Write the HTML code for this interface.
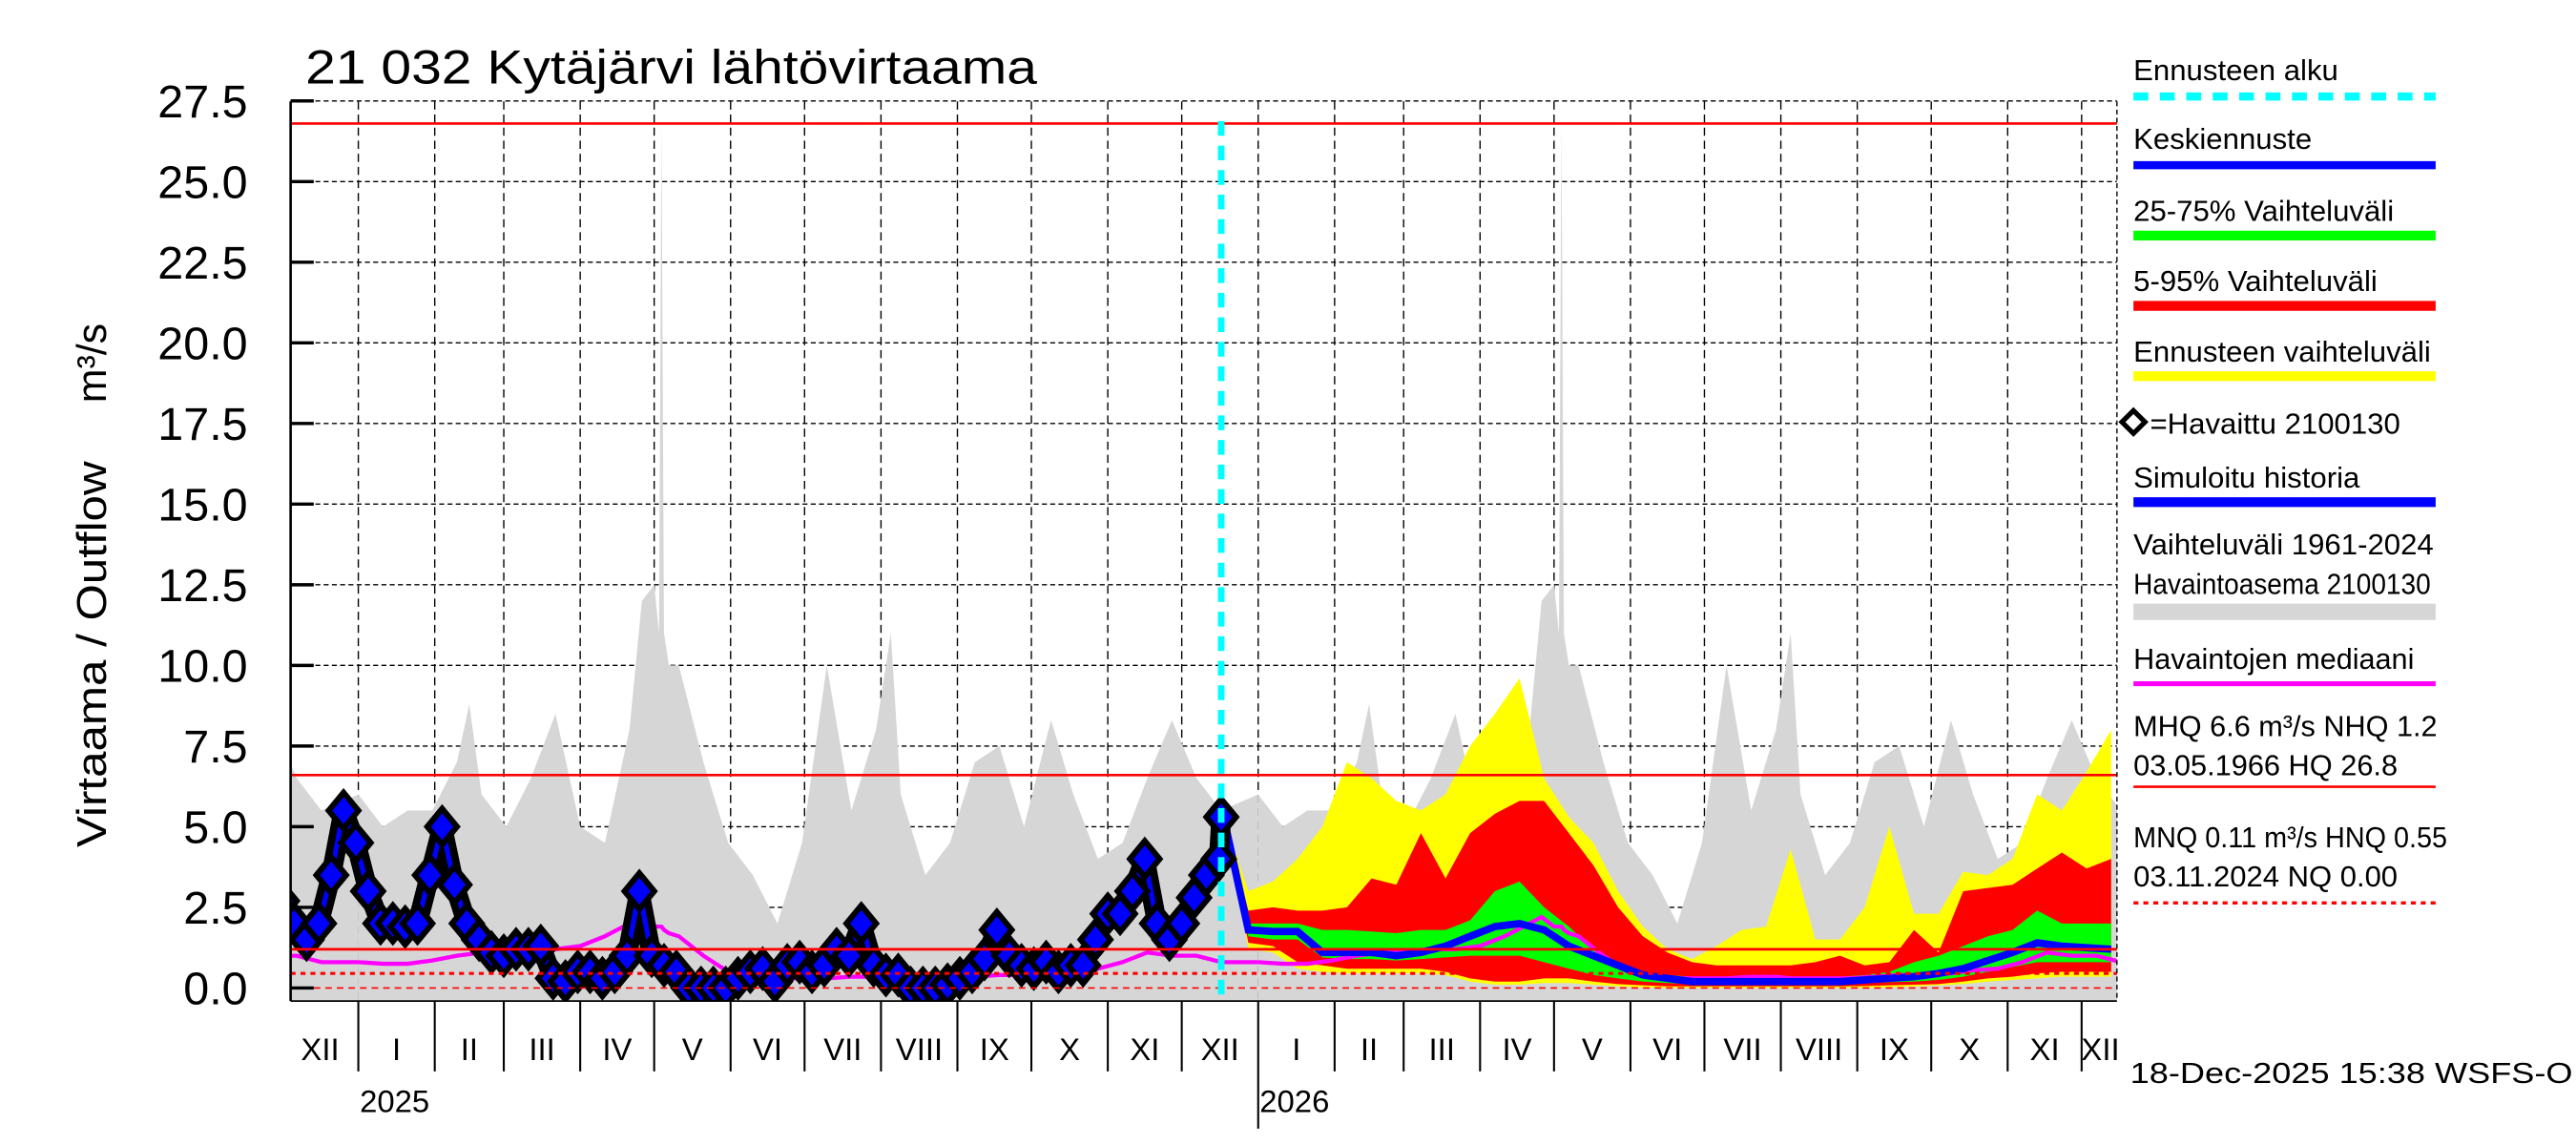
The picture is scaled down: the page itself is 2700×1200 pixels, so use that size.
<!DOCTYPE html>
<html><head><meta charset="utf-8"><style>
html,body{margin:0;padding:0;background:#fff;}
svg{display:block;font-family:"Liberation Sans",sans-serif;}
</style></head><body>
<svg id="chart" width="2700" height="1200" viewBox="0 0 1560 700" preserveAspectRatio="none" xmlns="http://www.w3.org/2000/svg">
<defs><clipPath id="plotclip"><rect x="176" y="62" width="1106" height="550"/></clipPath></defs>
<rect x="0" y="0" width="1560" height="700" fill="#fff"/>
<text x="185" y="51" font-size="29" textLength="443" lengthAdjust="spacingAndGlyphs">21 032 Kytäjärvi lähtövirtaama</text>
<text transform="translate(64,400) rotate(-90)" text-anchor="middle" font-size="25" textLength="236" lengthAdjust="spacingAndGlyphs">Virtaama / Outflow</text>
<text transform="translate(64,222) rotate(-90)" text-anchor="middle" font-size="25">m³/s</text>
<g id="grid"></g><g id="series" clip-path="url(#plotclip)"></g><g id="overlay"></g><g id="axes"></g>
<g id="legend" font-size="18"></g>
<text x="1290" y="662" font-size="18" textLength="268" lengthAdjust="spacingAndGlyphs">18-Dec-2025 15:38 WSFS-O</text>
</svg>
<script>
// ---- data ----
const yTicks = [0,2.5,5,7.5,10,12.5,15,17.5,20,22.5,25,27.5];
const yTickLabels = ["0.0","2.5","5.0","7.5","10.0","12.5","15.0","17.5","20.0","22.5","25.0","27.5"];
const monthLabels = ["XII","I","II","III","IV","V","VI","VII","VIII","IX","X","XI","XII","I","II","III","IV","V","VI","VII","VIII","IX","X","XI","XII"];
const refLevels = [26.8, 6.6, 1.2];
const dashedLevels = [0.45, 0.0];
const forecastStartDay = 351;
const climDays = [0,10,20,30,40,45,50,60,70,80,90,100,110,115,120,122,123,124,126,130,140,150,160,170,180,190,200,210,216,220,230,240,250,260,270,281,290,300,310,320,330,340,350,365];
const climMax = [6.0,5.0,5.5,5.5,7.0,8.8,6.0,5.0,6.5,8.5,5.0,4.5,8.0,12.0,12.5,11,26.8,11,10,10,7,4.5,3.5,2.0,4.5,10,5.5,8,11,6,3.5,4.5,7,7.5,5,8.3,6,4,4.5,6.5,8.3,6.5,5.5,6.0];
const climMed = [0.8,0.75,0.75,0.85,1.0,1.05,1.1,1.15,1.2,1.2,1.3,1.6,2.0,2.2,1.9,1.9,1.9,1.8,1.7,1.6,1.0,0.5,0.35,0.3,0.3,0.3,0.35,0.35,0.3,0.3,0.3,0.3,0.35,0.4,0.4,0.45,0.55,0.6,0.8,1.1,1.0,1.0,0.8,0.8];
const obsValues = [3.3,4.2,2.7,2.0,1.5,2.0,3.5,5.5,4.5,3.0,2.0,2.0,1.9,2.0,3.5,5.0,3.2,2.0,1.5,1.1,1.0,1.2,1.2,1.3,0.3,0.2,0.5,0.5,0.3,0.5,1.0,3.0,1.0,0.7,0.5,0.0,0.0,0.0,0.0,0.3,0.5,0.6,0.2,0.7,0.8,0.5,0.7,1.2,1.0,2.0,0.7,0.4,0.4,0.0,0.0,0.0,0.1,0.3,0.5,0.9,1.8,1.0,0.7,0.6,0.8,0.5,0.7,0.7,1.5,2.3,2.3,3.0,4.0,2.0,1.5,2.0,2.8,3.5,4.0,5.3];
const obsDays = [];
for (let i = 0; i < obsValues.length - 1; i++) obsDays.push(-41 + 5 * i);
obsDays.push(350);
const fcDays = [];
for (let i = 0; i < 37; i++) fcDays.push(forecastStartDay + 10 * i);
const fcYellowMax = [5.3,3.0,3.3,4.0,5.0,7.0,6.5,5.8,5.5,6.0,7.5,8.5,9.6,6.5,5.3,4.5,3.0,1.9,1.2,0.9,1.3,1.8,1.9,4.3,1.5,1.5,2.5,5.0,2.3,2.3,3.6,3.5,4.0,6.0,5.5,6.7,8.0];
const fcRedMax = [5.3,2.4,2.5,2.4,2.4,2.5,3.4,3.2,4.8,3.4,4.8,5.4,5.8,5.8,4.8,3.8,2.5,1.6,1.1,0.8,0.7,0.7,0.7,0.7,0.8,1.0,0.7,0.8,1.8,1.1,3.0,3.1,3.2,3.7,4.2,3.7,4.0];
const fcGreenMax = [5.3,2.0,2.0,2.0,1.8,1.8,1.75,1.7,1.8,1.8,2.1,3.0,3.3,2.5,1.9,1.2,0.8,0.5,0.4,0.35,0.35,0.3,0.3,0.3,0.3,0.35,0.4,0.5,0.8,1.0,1.3,1.6,1.8,2.4,2.0,2.0,2.0];
const fcMedian = [5.3,1.8,1.75,1.75,1.1,1.1,1.1,1.0,1.1,1.3,1.6,1.9,2.0,1.8,1.3,1.0,0.7,0.4,0.3,0.2,0.2,0.2,0.2,0.2,0.2,0.2,0.25,0.3,0.35,0.45,0.6,0.85,1.1,1.4,1.3,1.25,1.2];
const fcGreenMin = [5.3,1.6,1.5,1.5,0.95,0.9,0.9,0.85,0.9,0.95,1.0,1.0,1.0,0.8,0.6,0.4,0.3,0.2,0.15,0.12,0.12,0.12,0.12,0.12,0.12,0.12,0.15,0.18,0.2,0.25,0.35,0.5,0.65,0.8,0.8,0.8,0.8];
const fcRedMin = [5.3,1.4,1.3,0.8,0.7,0.6,0.6,0.6,0.6,0.5,0.3,0.2,0.2,0.3,0.3,0.2,0.12,0.08,0.05,0.05,0.05,0.05,0.05,0.05,0.05,0.05,0.06,0.08,0.1,0.12,0.2,0.3,0.35,0.45,0.5,0.5,0.5];
const fcYellowMin = [5.3,1.2,1.1,0.6,0.5,0.45,0.45,0.45,0.45,0.4,0.2,0.1,0.1,0.15,0.15,0.1,0.05,0.02,0,0,0,0,0,0,0,0,0,0.02,0.05,0.08,0.12,0.2,0.25,0.3,0.35,0.35,0.35];

// ---- scales ----
const X0 = 217, PX_PER_DAY = 1.493, PL = 176, PR = 1282, PT = 62, PB = 612;
function xs(d){ return X0 + d * PX_PER_DAY; }
function ys(v){ return 604 - v * 19.72; }
const NS = "http://www.w3.org/2000/svg";
function mk(tag, attrs, parent){ const e = document.createElementNS(NS, tag); for (const k in attrs) e.setAttribute(k, attrs[k]); parent.appendChild(e); return e; }
const grid = document.getElementById('grid'), series = document.getElementById('series'), overlay = document.getElementById('overlay'), axes = document.getElementById('axes'), legend = document.getElementById('legend');
function dayOf(y, m){ return Math.round((Date.UTC(y, m, 1) - Date.UTC(2025, 0, 1)) / 86400000); }

yTicks.forEach((v, i) => {
  if (v > 0) { const g = mk('line', {x1:PL, x2:PR, y1:ys(v), y2:ys(v), stroke:'#000', 'stroke-width':0.8, 'stroke-dasharray':'3,2'}, grid);
      }
  const t = mk('line', {x1:PL, x2:PL+14, y1:ys(v), y2:ys(v), stroke:'#000', 'stroke-width':2}, axes);
   
  const l = mk('text', {x:150, y:ys(v)+10, 'text-anchor':'end', 'font-size':28}, axes);
   
  l.textContent = yTickLabels[i];
});
for (let i = 0; i < monthLabels.length; i++) {
  const y = 2024 + Math.floor((11 + i) / 12), m = (11 + i) % 12;
  const d0 = dayOf(y, m), d1 = dayOf(m === 11 ? y + 1 : y, (m + 1) % 12);
  const xa = xs(d0);
  if (xa > PL && xa < PR) {
    const g = mk('line', {x1:xa, x2:xa, y1:PT, y2:PB, stroke:'#000', 'stroke-width':0.8, 'stroke-dasharray':'5,3'}, grid);
     
    const t = mk('line', {x1:xa, x2:xa, y1:PB, y2:(m === 0 && y === 2026) ? 690 : 655, stroke:'#000', 'stroke-width':1.2}, axes);
     
  }
  const xc = Math.max(PL + 17, Math.min(PR - 10, xs((d0 + d1) / 2)));
  const l = mk('text', {x:xc, y:648, 'text-anchor':'middle', 'font-size':19}, axes);
   
  l.textContent = monthLabels[i];
}
[2025, 2026].forEach(yr => {
  const l = mk('text', {x:xs(dayOf(yr, 0)) + 22, y:680, 'text-anchor':'middle', 'font-size':19}, axes);
   
  l.textContent = String(yr);
});
mk('line', {x1:PL, x2:PL, y1:PT, y2:PB, stroke:'#000', 'stroke-width':1.5}, axes);
mk('line', {x1:PR, x2:PR, y1:PT, y2:PB, stroke:'#000', 'stroke-width':0.8, 'stroke-dasharray':'3,2'}, axes);
mk('line', {x1:PL, x2:PR, y1:PB, y2:PB, stroke:'#000', 'stroke-width':1}, axes);

[-365, 0, 365].forEach(off => {
  let p = '';
  climDays.forEach((d, i) => { p += (i ? 'L' : 'M') + xs(d + off).toFixed(1) + ',' + ys(climMax[i]).toFixed(1); });
  p += 'L' + xs(climDays[climDays.length-1] + off) + ',' + PB + 'L' + xs(climDays[0] + off) + ',' + PB + 'Z';
  const e = mk('path', {d:p, fill:'#d6d6d6'}, series);
   
});
function band(upper, lower, color, name){
  let p = '';
  fcDays.forEach((d, i) => { p += (i ? 'L' : 'M') + xs(d).toFixed(1) + ',' + ys(upper[i]).toFixed(1); });
  for (let i = fcDays.length - 1; i >= 0; i--) p += 'L' + xs(fcDays[i]).toFixed(1) + ',' + ys(lower[i]).toFixed(1);
  const e = mk('path', {d:p + 'Z', fill:color}, series);
   
}
band(fcYellowMax, fcYellowMin, '#ffff00', 'forecast-range-band');
band(fcRedMax, fcRedMin, '#ff0000', 'band-5-95');
band(fcGreenMax, fcGreenMin, '#00ff00', 'band-25-75');
refLevels.forEach(v => {
  const e = mk('line', {x1:PL, x2:PR, y1:ys(v), y2:ys(v), stroke:'#ff0000', 'stroke-width':1.6}, overlay);
   
});
dashedLevels.forEach((v, i) => {
  const e = mk('line', {x1:PL, x2:PR, y1:ys(v), y2:ys(v), stroke:'#ff0000', 'stroke-width':i ? 1 : 1.8, 'stroke-dasharray':i ? '4,3' : '3,3'}, overlay);
   
});
[-365, 0, 365].forEach(off => {
  const pts = climDays.map((d, i) => xs(d + off).toFixed(1) + ',' + ys(climMed[i]).toFixed(1)).join(' ');
  const e = mk('polyline', {points:pts, fill:'none', stroke:'#ff00ff', 'stroke-width':2.5}, series);
   
});
{
  const pts = fcDays.map((d, i) => xs(d).toFixed(1) + ',' + ys(fcMedian[i]).toFixed(1)).join(' ');
  const e = mk('polyline', {points:pts, fill:'none', stroke:'#0000ff', 'stroke-width':4.5}, series);
   
}
{
  const pts = obsDays.map((d, i) => xs(d).toFixed(1) + ',' + ys(obsValues[i]).toFixed(1)).join(' ');
  const b = mk('polyline', {points:pts, fill:'none', stroke:'#000', 'stroke-width':12, 'stroke-linejoin':'round'}, series);
   
  const e = mk('polyline', {points:pts, fill:'none', stroke:'#0000ff', 'stroke-width':3}, series);
   
  obsDays.forEach((d, i) => {
    const x = xs(d), y = ys(obsValues[i]);
    const m = mk('path', {d:`M${x},${y-11}L${x+9},${y}L${x},${y+11}L${x-9},${y}Z`, fill:'#0000ff', stroke:'#000', 'stroke-width':3.5}, series);
     
  });
}
{
  const x = xs(forecastStartDay - 1);
  const e = mk('line', {x1:x, x2:x, y1:74, y2:PB, stroke:'#00ffff', 'stroke-width':4, 'stroke-dasharray':'9,6'}, overlay);
   
}
const LX = 1292, LX2 = 1475;
function ltext(txt, y, name, len){
  const t = mk('text', {x:LX, y:y}, legend);
  if (len) { t.setAttribute('textLength', len); t.setAttribute('lengthAdjust', 'spacingAndGlyphs'); }
   
  t.textContent = txt;
}
function lline(y, color, w, dash, name){
  const a = {x1:LX, x2:LX2, y1:y, y2:y, stroke:color, 'stroke-width':w};
  if (dash) a['stroke-dasharray'] = dash;
  const l = mk('line', a, legend);
   
}
ltext('Ennusteen alku', 49, 'legend-forecast-start-label'); lline(59, '#00ffff', 5, '9,7', 'legend-forecast-start-swatch');
ltext('Keskiennuste', 91, 'legend-median-forecast-label'); lline(101, '#0000ff', 5, null, 'legend-median-forecast-swatch');
ltext('25-75% Vaihteluväli', 135, 'legend-25-75-label'); lline(144, '#00ff00', 6, null, 'legend-25-75-swatch');
ltext('5-95% Vaihteluväli', 178, 'legend-5-95-label'); lline(187, '#ff0000', 6, null, 'legend-5-95-swatch');
ltext('Ennusteen vaihteluväli', 221, 'legend-forecast-range-label'); lline(230, '#ffff00', 6, null, 'legend-forecast-range-swatch');
{ const m = mk('path', {d:'M1292,251L1299,258L1292,265L1285,258Z', fill:'#fff', stroke:'#000', 'stroke-width':3}, legend);
   
  const t = mk('text', {x:1302, y:265}, legend);
   
  t.textContent = '=Havaittu 2100130'; }
ltext('Simuloitu historia', 298, 'legend-simulated-label'); lline(307, '#0000ff', 6, null, 'legend-simulated-swatch');
ltext('Vaihteluväli 1961-2024', 339, 'legend-range-label');
ltext('Havaintoasema 2100130', 363, 'legend-station-label', 180); lline(374, '#d6d6d6', 10, null, 'legend-range-swatch');
ltext('Havaintojen mediaani', 409, 'legend-median-label', 170); lline(418, '#ff00ff', 3, null, 'legend-median-swatch');
ltext('MHQ  6.6 m³/s NHQ  1.2', 450, 'legend-mhq-label', 184);
ltext('03.05.1966 HQ 26.8', 474, 'legend-hq-label', 160); lline(481, '#ff0000', 1.5, null, 'legend-hq-swatch');
ltext('MNQ 0.11 m³/s HNQ 0.55', 518, 'legend-mnq-label', 190);
ltext('03.11.2024 NQ 0.00', 542, 'legend-nq-label', 160); lline(552, '#ff0000', 2, '3,3', 'legend-nq-swatch');
</script>
</body></html>
